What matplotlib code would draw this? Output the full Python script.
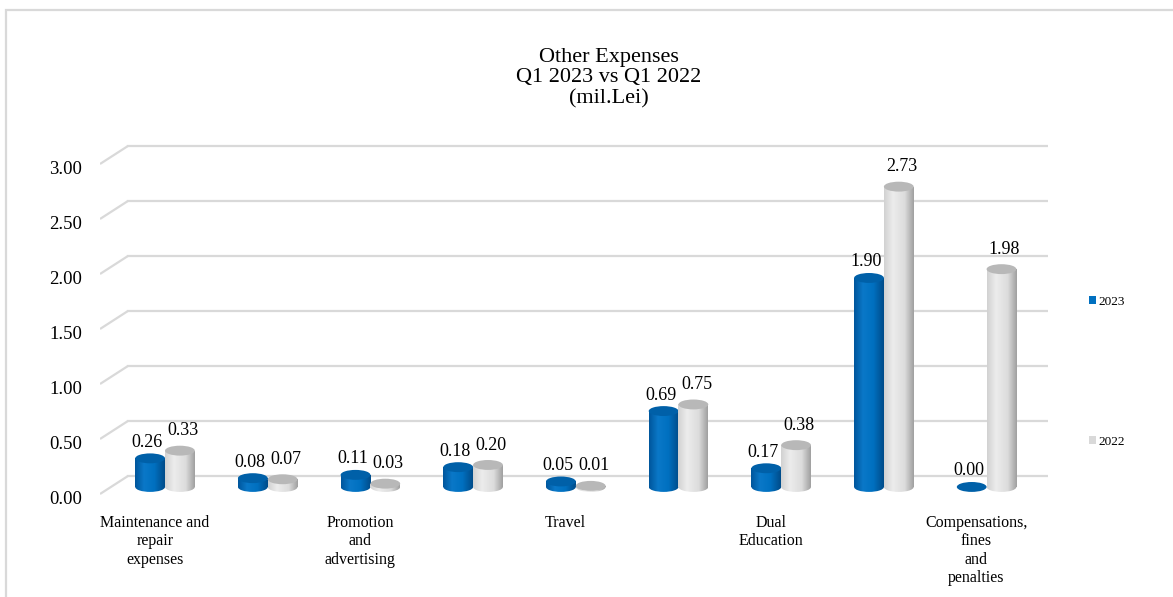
import numpy as np
import matplotlib
matplotlib.use('Agg')
import matplotlib.pyplot as plt
import matplotlib.transforms as mtransforms
from matplotlib.patches import Rectangle, Ellipse
from matplotlib.colors import LinearSegmentedColormap

# chart data
categories = ['Maintenance and\nrepair\nexpenses', '', 'Promotion\nand\nadvertising', '',
              'Travel', '', 'Dual\nEducation', '', 'Compensations,\nfines\nand\npenalties']
values_2023 = [0.26, 0.08, 0.11, 0.18, 0.05, 0.69, 0.17, 1.90, 0.00]
values_2022 = [0.33, 0.07, 0.03, 0.20, 0.01, 0.75, 0.38, 2.73, 1.98]
series_names = ['2023', '2022']
yticks = [0.0, 0.5, 1.0, 1.5, 2.0, 2.5, 3.0]
title = 'Other Expenses\nQ1 2023 vs Q1 2022\n(mil.Lei)'

plt.rcParams['font.family'] = ['Liberation Serif', 'DejaVu Serif']

blue_cmap = LinearSegmentedColormap.from_list(
    'blue', [(0, '#00569c'), (0.3, '#0a78c8'), (0.65, '#0070c0'), (1, '#004c8a')])
gray_cmap = LinearSegmentedColormap.from_list(
    'gray', [(0, '#d2d2d2'), (0.3, '#ececec'), (0.7, '#dcdcdc'), (1, '#a0a0a0')])
top_colors = ['#0060a8', '#b8b8b8']
legend_colors = ['#0070c0', '#d9d9d9']
grid_color = '#d9d9d9'

fig = plt.figure(figsize=(11.73, 5.97), dpi=100)
W, H = 1173, 597
ax = fig.add_axes([100 / W, 1 - 499.5 / H, 948 / W, 359.5 / H])
xmin, xmax = -0.633, 8.598
ymin, ymax = -0.05, 3.218

# pseudo 3D depth of the back wall, bars stand half way in
dx, dy = 0.273, 0.164
base0 = 0.064
bw = 0.29
eh = 0.09

# gridlines: diagonal on the side wall plus line on the back wall
for t in yticks:
    ax.plot([xmin, xmin + dx], [t, t + dy], color=grid_color, lw=1.6, zorder=1,
            solid_capstyle='butt')
    ax.plot([xmin + dx, xmax], [t + dy, t + dy], color=grid_color, lw=1.6, zorder=1)

grad = np.linspace(0, 1, 64).reshape(1, -1)


def cylinder(xc, v, cmap, topc, z):
    x0, x1 = xc - bw / 2, xc + bw / 2
    top = base0 + v
    if v > 0:
        body = Rectangle((x0, base0), bw, v, transform=ax.transData)
        im = ax.imshow(grad, cmap=cmap, extent=(x0, x1, base0, top), aspect='auto',
                       zorder=z, interpolation='bilinear')
        im.set_clip_path(body)
        base = Ellipse((xc, base0), bw, eh, transform=ax.transData)
        im2 = ax.imshow(grad, cmap=cmap, extent=(x0, x1, base0 - eh / 2, base0 + eh / 2),
                        aspect='auto', zorder=z, interpolation='bilinear')
        im2.set_clip_path(base)
    ax.add_patch(Ellipse((xc, top), bw, eh, facecolor=topc, edgecolor='none',
                         zorder=z + 0.1))


for i in range(len(categories)):
    cylinder(i - bw / 2, values_2023[i], blue_cmap, top_colors[0], 3 + i * 0.01)
    cylinder(i + bw / 2, values_2022[i], gray_cmap, top_colors[1], 3.5 + i * 0.01)
    ax.text(i - bw / 2 - 0.03, base0 + values_2023[i] + 0.105, f'{values_2023[i]:.2f}',
            ha='center', va='baseline', fontsize=13, zorder=6)
    ax.text(i + bw / 2 + 0.03, base0 + values_2022[i] + 0.14, f'{values_2022[i]:.2f}',
            ha='center', va='baseline', fontsize=13, zorder=6)

ax.set_xlim(xmin, xmax)
ax.set_ylim(ymin, ymax)
ax.set_yticks(yticks)
ax.set_yticklabels([f'{t:.2f}' for t in yticks], fontsize=13.5)
ax.set_xticks(np.arange(len(categories)) - 0.1)
ax.set_xticklabels(categories, fontsize=11.5, linespacing=1.2, va='top')
ax.tick_params(axis='both', length=0)
ax.tick_params(axis='y', pad=13)
ax.tick_params(axis='x', pad=11)
for s in ax.spines.values():
    s.set_visible(False)

# y labels sit a little below the front gridline start
shift = mtransforms.ScaledTranslation(0, -4 / 100, fig.dpi_scale_trans)
for lbl in ax.get_yticklabels():
    lbl.set_transform(lbl.get_transform() + shift)

fig.text(609 / W, 1 - 78 / H, title, ha='center', va='center', fontsize=16,
         linespacing=1.1)

handles = [Rectangle((0, 0), 1, 1, facecolor=c, edgecolor='none') for c in legend_colors]
fig.legend(handles, series_names, loc='center left',
           bbox_to_anchor=(1077 / W, 1 - 372 / H), frameon=False, fontsize=9.5,
           handlelength=0.55, handleheight=0.55, handletextpad=0.15, labelspacing=9.7)

# outer chart border
fig.patches.append(Rectangle((6 / W, -0.1), 1.2, 1 - 10 / H + 0.1, transform=fig.transFigure,
                             facecolor='none', edgecolor='#d9d9d9', lw=1.6))

fig.savefig('out.png', dpi=100)
